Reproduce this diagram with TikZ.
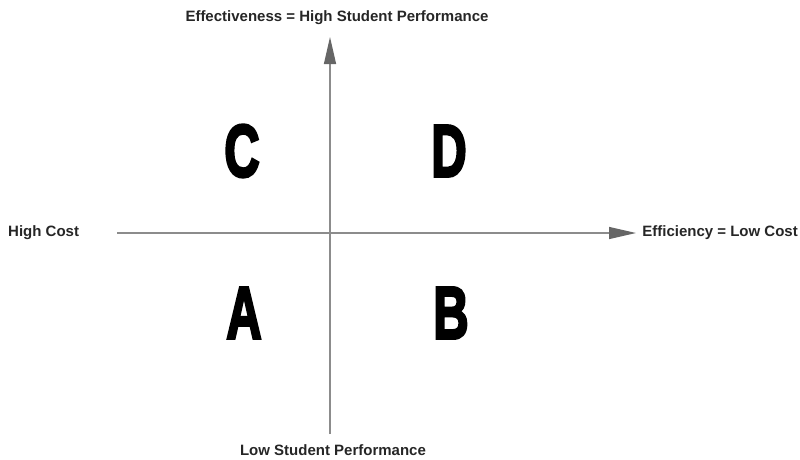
\documentclass[tikz,border=0pt]{standalone}
\usepackage{fontspec}
\setmainfont{Liberation Sans}
\newfontfamily\quadfont[FakeBold=4]{Liberation Sans Bold}
\usetikzlibrary{arrows.meta}
\begin{document}
\begin{tikzpicture}[x=1pt,y=-1pt,
  axis/.style={draw=black!45, line width=1.3pt, -{Triangle[length=27pt,width=12pt,fill=black!60,color=black!60]}},
  lbl/.style={font=\fontsize{15}{17}\selectfont\bfseries, text=black!85, inner sep=0pt},
  quad/.style={font=\fontsize{74}{74}\quadfont, inner sep=0pt, xscale=0.66, transform shape}]
\useasboundingbox (0,0) rectangle (800,459);
\coordinate (left) at (117,233);
\coordinate (right) at (636,233);
\coordinate (bottom) at (330,434);
\coordinate (top) at (330,37);
\draw[axis] (left) -- (right);
\draw[axis] (bottom) -- (top);
\node[lbl] (t) at (337,18) {Effectiveness = High Student Performance};
\node[lbl, anchor=west] (hc) at (8,233) {High Cost};
\node[lbl, anchor=east] (ef) at (798,233) {Efficiency = Low Cost};
\node[lbl] (lo) at (333,450) {Low Student Performance};
\node[quad] (C) at (242,151) {C};
\node[quad] (D) at (449,151) {D};
\node[quad] (A) at (244,313) {A};
\node[quad] (B) at (451,313) {B};
\end{tikzpicture}
\end{document}
